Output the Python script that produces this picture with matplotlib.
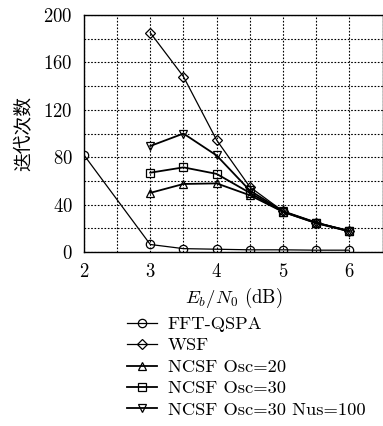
import matplotlib
matplotlib.use("Agg")
import matplotlib.pyplot as plt
from matplotlib.ticker import MultipleLocator

plt.rcParams['font.family'] = ['cmr10', 'DejaVu Serif']
plt.rcParams['mathtext.fontset'] = 'cm'
plt.rcParams['axes.formatter.use_mathtext'] = True

x_fft = [2, 3, 3.5, 4, 4.5, 5, 5.5, 6]
y_fft = [82, 6.5, 3, 2.5, 2, 2, 1.7, 1.7]
x_n = [3, 3.5, 4, 4.5, 5, 5.5, 6]
y_wsf = [185, 148, 94.5, 55, 34.5, 25, 18]
y_osc20 = [50, 57.5, 58, 48, 34, 24.5, 17.5]
y_osc30 = [67, 71.5, 66, 50, 34, 24.5, 18]
y_nus = [89.5, 100, 81.5, 52, 34.5, 25, 17.5]
labels = ["FFT-QSPA", "WSF", "NCSF Osc=20", "NCSF Osc=30", "NCSF Osc=30 Nus=100"]

fig = plt.figure(figsize=(3.83, 4.26), dpi=100)
ax = fig.add_axes([0.219, 0.408, 0.78, 0.557])

mk = dict(color='black', markerfacecolor='none', markeredgecolor='black',
          markersize=6, markeredgewidth=0.9)
ax.plot(x_fft, y_fft, marker='o', lw=0.9, label=labels[0], **mk)
ax.plot(x_n, y_wsf, marker='D', lw=0.9, label=labels[1], **dict(mk, markersize=5))
ax.plot(x_n, y_osc20, marker='^', lw=1.3, label=labels[2], **mk)
ax.plot(x_n, y_osc30, marker='s', lw=1.3, label=labels[3], **dict(mk, markersize=5.5))
ax.plot(x_n, y_nus, marker='v', lw=1.3, label=labels[4], **mk)

ax.set_xlim(2, 6.5)
ax.set_ylim(0, 200)
ax.xaxis.set_major_locator(MultipleLocator(1))
ax.xaxis.set_minor_locator(MultipleLocator(0.5))
ax.yaxis.set_major_locator(MultipleLocator(40))
ax.yaxis.set_minor_locator(MultipleLocator(20))
ax.grid(True, which='both', color='black', linestyle=(0, (1.5, 1.5)), linewidth=0.8)
ax.tick_params(which='both', length=0, labelsize=13.5, pad=8)
for s in ax.spines.values():
    s.set_linewidth(1.0)

ax.set_xlabel(r'$E_b/N_0$ (dB)', fontsize=13.5, labelpad=3)
ax.set_ylabel('迭代次数', fontsize=13.5, family=['Noto Sans CJK SC'], labelpad=6)

handles, labs = ax.get_legend_handles_labels()
fig.legend(handles, labs, loc='upper left', bbox_to_anchor=(0.332, 0.258),
           frameon=False, fontsize=13.3, handlelength=1.62, handletextpad=0.58,
           labelspacing=0.3, borderpad=0, borderaxespad=0)

fig.savefig('out.png', dpi=100)
